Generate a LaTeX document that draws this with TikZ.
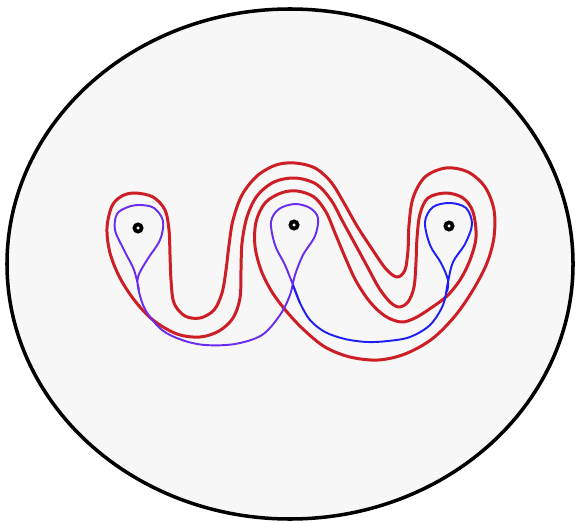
\documentclass[tikz,border=0pt]{standalone}
\usepackage{tikz}
\usepackage{xcolor}
\definecolor{diskgray}{RGB}{247,247,247}
\definecolor{curvered}{RGB}{204,30,36}
\definecolor{curveblue}{RGB}{30,30,245}
\definecolor{curveviolet}{RGB}{105,45,240}

\begin{document}
\begin{tikzpicture}[
  x=0.02cm, y=-0.02cm,
  disk/.style={draw=black, line width=2pt, fill=diskgray},
  redcurve/.style={draw=curvered, line width=1.7pt, line join=round},
  bluecurve/.style={draw=curveblue, line width=1.1pt, line join=round},
  violetcurve/.style={draw=curveviolet, line width=1.1pt, line join=round},
  puncture/.style={circle, draw=black, line width=2.1pt, fill=diskgray, inner sep=0pt, minimum size=4.1pt}
]
  \useasboundingbox (0,0) rectangle (577,523);

  \path[disk] (290,264) ellipse [x radius=283, y radius=255];

  \draw[redcurve] plot[smooth cycle, tension=0.55] coordinates {
    (135,193) (153,197) (165,210) (169,230) (170,255) (171,280) (174,303)
    (185,316) (200,318) (214,310) (222,293) (226,270) (229,245) (233,220)
    (242,195) (257,176) (276,165) (295,163) (315,168) (331,182) (344,203)
    (357,226) (372,249) (386,269) (397,277) (405,270) (408,250) (409,225)
    (413,198) (425,177) (446,168) (468,172) (485,187) (494,210) (494,237)
    (487,263) (473,290) (455,316) (432,339) (405,354) (378,360) (350,357)
    (325,347) (304,330) (287,312) (272,292) (261,270) (255,246) (256,222)
    (265,203) (281,193) (297,191) (314,197) (326,212) (335,233) (345,257)
    (356,281) (370,302) (385,316) (401,322) (415,318) (431,308) (447,296)
    (460,280) (470,260) (476,237) (473,212) (463,198) (446,193) (428,198)
    (420,214) (417,238) (416,262) (414,287) (408,302) (399,307) (390,302)
    (379,288) (367,266) (355,244) (343,222) (331,200) (316,184) (295,178)
    (274,182) (257,196) (247,217) (242,243) (241,270) (240,298) (233,318)
    (219,331) (200,337) (177,334) (153,320) (135,301) (120,278) (110,253)
    (107,228) (112,206) (122,196)};

  \draw[violetcurve] plot[smooth, tension=0.55] coordinates {
    (139,290) (134,270) (124,250) (115,230) (117,214) (128,207) (140,205)
    (154,208) (163,221) (160,240) (147,260) (138,277) (139,292) (146,311)
    (162,330) (182,340) (205,345) (235,344) (262,335) (280,315) (290,295)
    (295,275) (303,255) (315,236) (318,218) (310,208) (295,204) (279,209)
    (271,222) (275,245) (285,265) (293,285) (300,303)};

  \draw[bluecurve] plot[smooth, tension=0.55] coordinates {
    (293,285) (300,303) (310,320) (325,332) (345,339) (367,342) (388,341)
    (410,337) (430,325) (443,305) (448,282) (453,262) (465,244) (472,224)
    (466,208) (450,203) (433,207) (425,222) (430,245) (441,263) (448,280)
    (447,292)};

  \node[puncture] (p1) at (138,228) {};
  \node[puncture] (p2) at (294,225) {};
  \node[puncture] (p3) at (449,226) {};
\end{tikzpicture}
\end{document}
